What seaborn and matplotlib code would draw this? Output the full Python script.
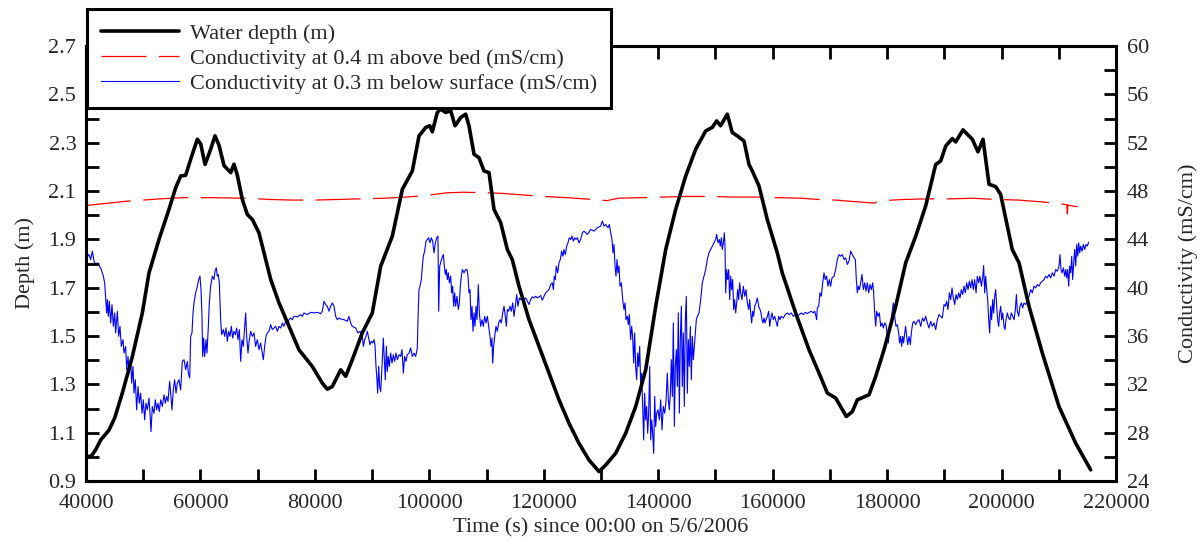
import numpy as np
import pandas as pd
import matplotlib
matplotlib.use("Agg")
import matplotlib.pyplot as plt
from matplotlib.ticker import MultipleLocator, FixedLocator, FormatStrFormatter
from matplotlib.lines import Line2D
import seaborn as sns

# ---------------- data ----------------
depth_t = [40300, 41000, 41700, 42570, 44000, 45000, 46350, 48100, 49840, 51010, 52760, 54500, 55680,
           56550, 57420, 58290, 59450, 60040, 60800, 61790, 62540, 63240, 64120, 65290, 65860, 66450,
           67320, 68190, 69070, 70230, 71110, 72280, 73730, 75480, 77220, 79550, 81300, 82170, 83040,
           84510, 85380, 86540, 88290, 90030, 91500, 93530, 95280, 97030, 98200, 99370, 100080, 100520,
           101390, 101990, 102860, 103740, 104490, 105480, 106360, 106930, 107810, 108680, 109550, 110430,
           111300, 112470, 113630, 114500, 115670, 117420, 119170, 120910, 122660, 124410, 126150, 127900,
           129650, 130820, 132570, 134320, 136060, 137810, 139560, 141310, 143050, 144800, 146550, 148300,
           149440, 150210, 150900, 152070, 152940, 153820, 154990, 155860, 156440, 157610, 159060, 160810,
           161680, 164020, 166350, 168100, 169550, 171020, 172870, 173920, 174800, 176840, 178010, 179460,
           181500, 183250, 185000, 186740, 188490, 189360, 190240, 191390, 191980, 193260, 194890, 195880,
           196760, 197810, 198980, 199840, 201870, 203050, 204800, 207120, 210040, 212960, 215580]
depth_v = [1.000, 1.005, 1.030, 1.070, 1.110, 1.160, 1.264, 1.415, 1.595, 1.761, 1.900, 2.024, 2.114,
           2.162, 2.165, 2.231, 2.314, 2.295, 2.210, 2.273, 2.328, 2.290, 2.205, 2.176, 2.211, 2.165,
           2.065, 2.003, 1.982, 1.927, 1.844, 1.734, 1.637, 1.540, 1.443, 1.374, 1.305, 1.280, 1.291,
           1.360, 1.333, 1.402, 1.513, 1.595, 1.789, 1.913, 2.107, 2.183, 2.328, 2.363, 2.370, 2.345,
           2.425, 2.439, 2.425, 2.432, 2.370, 2.404, 2.418, 2.370, 2.252, 2.238, 2.183, 2.176,
           2.024, 1.969, 1.858, 1.816, 1.706, 1.568, 1.457, 1.347, 1.236, 1.139, 1.056, 0.987,
           0.939, 0.966, 1.015, 1.098, 1.208, 1.360, 1.623, 1.858, 2.024, 2.162, 2.273, 2.349,
           2.363, 2.390, 2.370, 2.418, 2.342, 2.328, 2.307, 2.210, 2.183, 2.121, 1.982, 1.844,
           1.761, 1.595, 1.443, 1.347, 1.264, 1.243, 1.167, 1.187, 1.236, 1.257, 1.333, 1.443,
           1.623, 1.803, 1.913, 2.038, 2.210, 2.224, 2.286, 2.317, 2.303, 2.353, 2.314, 2.262,
           2.314, 2.128, 2.118, 2.086, 1.858, 1.803, 1.623, 1.430, 1.208, 1.056, 0.946]

bed_t = [40000, 43000, 47000, 50000, 53000, 57000, 62000, 68000, 72000, 76000, 80000, 84000, 88000,
         92000, 96000, 99000, 103000, 106000, 110000, 113000, 117000, 120000, 124000, 127000, 130000,
         131000, 133000, 137000, 141000, 145000, 149000, 153000, 157000, 161000, 165000, 168000, 171000,
         173000, 175000, 177700, 179000, 183000, 187000, 191000, 195000, 199000, 203000, 207000, 210900,
         211400, 211500, 211600, 212500, 213300]
bed_c = [46.80, 46.95, 47.15, 47.25, 47.35, 47.45, 47.45, 47.40, 47.30, 47.25, 47.25, 47.30, 47.35,
         47.40, 47.50, 47.60, 47.85, 47.90, 47.85, 47.80, 47.65, 47.55, 47.45, 47.35, 47.25,
         47.20, 47.40, 47.45, 47.50, 47.55, 47.55, 47.50, 47.50, 47.45, 47.40, 47.30, 47.25,
         47.17, 47.10, 47.00, 47.20, 47.30, 47.35, 47.35, 47.40, 47.30, 47.25, 47.10, 46.90,
         46.85, 46.10, 46.85, 46.75, 46.70]

surf_t = [40000, 40120, 40520, 40820, 41110, 41400, 41690, 41980, 42270, 42560, 43030, 43260, 43440,
          43610, 43730, 43900, 44080, 44310, 44540, 44780, 45010, 45180, 45480, 45710, 45940, 46170,
          46470, 46640, 46930, 47110, 47340, 47570, 47800, 47980, 48210, 48390, 48620, 48850, 49090,
          49320, 49550, 49790, 50020, 50250, 50480, 50720, 51010, 51180, 51360, 51590, 51880, 52120,
          52350, 52580, 52810, 53050, 53340, 53630, 53860, 54100, 54330, 54620, 54800, 55030, 55260,
          55490, 55730, 55960, 56250, 56540, 56830, 57130, 57420, 57710, 57880, 58120, 58290, 58520,
          58700, 58870, 59160, 59460, 59690, 59920, 60100, 60270, 60390, 60560, 60740, 60970, 61140,
          61380, 61550, 61780, 62080, 62370, 62540, 62770, 62950, 63120, 63300, 63530, 63710, 64000,
          64230, 64470, 64700, 64930, 65170, 65400, 65630, 65860, 66100, 66330, 66560, 66800, 67030,
          67260, 67490, 67730, 67900, 68080, 68310, 68540, 68770, 69070, 69360, 69650, 69940, 70230,
          70520, 70810, 70990, 71220, 71450, 71690, 71980, 72270, 72560, 72850, 73140, 73440, 73730,
          74020, 74310, 74600, 74890, 75180, 75470, 75770, 76060, 76350, 76930, 77510, 77800, 78100,
          78680, 79260, 79840, 80430, 81010, 81300, 81590, 81880, 82170, 82460, 82750, 83050, 83340,
          83630, 83920, 84210, 84510, 85090, 85670, 85960, 86250, 86540, 87130, 87530, 87880, 88290,
          88470, 88700, 88930, 89170, 89400, 89630, 89860, 90100, 90330, 90500, 90680, 90850, 90970,
          91150, 91320, 91500, 91730, 91960, 92140, 92310, 92490, 92660, 92830, 93010, 93240, 93480,
          93710, 93940, 94170, 94410, 94700, 94990, 95220, 95460, 95690, 95920, 96150, 96450, 96740,
          97030, 97320, 97610, 97900, 98020, 98190, 98370, 98600, 98780, 98950, 99180, 99420, 99650,
          99880, 100120, 100350, 100580, 100820, 101050, 101280, 101510, 101630, 101810, 101980, 102210,
          102450, 102620, 102800, 102970, 103150, 103320, 103500, 103730, 103900, 104080, 104250, 104430,
          104600, 104830, 105070, 105240, 105420, 105590, 105770, 106060, 106350, 106580, 106760, 106930,
          107110, 107280, 107460, 107630, 107810, 107980, 108160, 108330, 108560, 108740, 108970, 109200,
          109440, 109670, 109900, 110140, 110370, 110600, 110780, 110950, 111070, 111240, 111420, 111650,
          111880, 112120, 112350, 112580, 112820, 113050, 113280, 113460, 113630, 113860, 114100, 114330,
          114560, 114800, 115030, 115260, 115490, 115730, 115960, 116250, 116540, 116840, 117130, 117420,
          117710, 118000, 118290, 118580, 118870, 119160, 119460, 119750, 120040, 120330, 120620, 120910,
          121200, 121490, 121670, 121840, 122020, 122190, 122430, 122660, 122890, 123120, 123360, 123530,
          123770, 124000, 124230, 124460, 124700, 124930, 125160, 125400, 125630, 125860, 126150, 126440,
          126740, 127030, 127610, 128200, 128780, 129360, 129940, 130230, 130530, 130820, 131220, 131460,
          131690, 131920, 132100, 132270, 132450, 132620, 132800, 132970, 133150, 133320, 133550, 133790,
          134020, 134200, 134370, 134600, 134780, 134950, 135180, 135360, 135530, 135710, 135880, 136060,
          136230, 136410, 136580, 136760, 136930, 137110, 137280, 137460, 137630, 137810, 137980, 138160,
          138330, 138510, 138680, 138860, 139030, 139210, 139380, 139560, 139730, 139960, 140200, 140430,
          140660, 140890, 141130, 141360, 141590, 141770, 141940, 142120, 142290, 142470, 142640, 142820,
          142990, 143170, 143340, 143510, 143690, 143860, 144040, 144210, 144390, 144560, 144740, 144910,
          145090, 145260, 145440, 145610, 145790, 145960, 146140, 146310, 146490, 146660, 146840, 147130,
          147420, 147710, 148000, 148290, 148580, 148870, 149160, 149460, 149750, 150040, 150210, 150450,
          150680, 150850, 151030, 151200, 151380, 151550, 151670, 151790, 151960, 152140, 152310, 152490,
          152660, 152840, 153010, 153190, 153360, 153540, 153710, 153880, 154060, 154230, 154410, 154640,
          154880, 155110, 155340, 155570, 155810, 155980, 156160, 156330, 156510, 156680, 156860, 157090,
          157320, 157560, 157790, 157960, 158140, 158310, 158490, 158660, 158840, 159070, 159300, 159480,
          159650, 159880, 160110, 160350, 160580, 160810, 161050, 161280, 161510, 161860, 162210, 162560,
          162910, 163260, 163610, 163960, 164310, 164660, 165010, 165360, 165710, 166060, 166410, 166760,
          167110, 167340, 167570, 167690, 167800, 168040, 168270, 168500, 168740, 168970, 169200, 169430,
          169670, 169900, 170130, 170370, 170720, 171010, 171300, 171590, 171890, 172180, 172470, 172760,
          173050, 173340, 173630, 173920, 174220, 174450, 174620, 174800, 174970, 175150, 175380, 175610,
          175850, 176080, 176310, 176540, 176780, 177010, 177240, 177480, 177650, 177830, 178000, 178180,
          178410, 178640, 178880, 179110, 179340, 179570, 179810, 180040, 180210, 180390, 180620, 180850,
          181090, 181320, 181550, 181790, 182020, 182190, 182370, 182540, 182720, 182890, 183070, 183240,
          183420, 183590, 183830, 184060, 184230, 184470, 184700, 184990, 185280, 185570, 185870, 186160,
          186450, 186740, 187030, 187320, 187610, 187900, 188200, 188490, 188780, 189070, 189360, 189650,
          189940, 190180, 190410, 190640, 190880, 191110, 191340, 191570, 191810, 192040, 192270, 192510,
          192740, 192970, 193200, 193440, 193670, 193900, 194140, 194370, 194600, 194840, 195070, 195300,
          195540, 195770, 196000, 196230, 196470, 196700, 196870, 197050, 197220, 197400, 197570, 197750,
          197920, 198100, 198270, 198450, 198620, 198800, 198970, 199150, 199320, 199500, 199670, 199850,
          200020, 200200, 200430, 200600, 200780, 201010, 201240, 201480, 201710, 201940, 202180, 202410,
          202590, 202760, 202990, 203220, 203460, 203690, 203920, 204210, 204510, 204800, 205090, 205380,
          205670, 205960, 206250, 206540, 206830, 207130, 207420, 207710, 208000, 208290, 208580, 208870,
          209170, 209460, 209750, 210040, 210210, 210390, 210560, 210800, 211030, 211200, 211380, 211560,
          211730, 211910, 212080, 212260, 212430, 212610, 212780, 212960, 213130, 213310, 213480, 213660,
          213830, 214060, 214290, 214530, 214760, 214990, 215220]
surf_c = [43.02, 42.47, 42.75, 42.33, 43.02, 42.19, 41.92, 42.06, 41.83, 41.64, 40.95, 40.40, 39.15,
          37.91, 39.01, 37.63, 38.88, 37.08, 38.60, 36.80, 37.91, 36.25, 38.05, 35.97, 36.80, 35.14,
          35.70, 34.59, 35.14, 33.21, 34.31, 32.93, 34.18, 32.10, 33.48, 31.27, 32.38, 29.89, 31.82,
          30.44, 31.27, 29.61, 30.72, 29.06, 30.44, 29.89, 30.86, 29.61, 28.09, 30.17, 29.61, 30.72,
          29.89, 30.44, 29.75, 30.72, 30.17, 31.13, 30.44, 31.00, 30.58, 32.24, 31.27, 29.89, 31.55,
          32.38, 31.27, 32.10, 32.38, 31.55, 33.90, 34.04, 33.21, 33.90, 32.93, 32.52, 35.97, 36.25,
          37.91, 38.74, 39.57, 40.12, 40.67, 40.95, 39.84, 37.63, 34.31, 35.83, 34.31, 35.70, 34.59,
          36.80, 38.74, 40.12, 40.95, 40.67, 41.36, 41.64, 40.95, 41.09, 40.40, 37.35, 36.11, 36.53,
          35.97, 36.66, 35.56, 36.39, 35.97, 36.80, 35.83, 36.39, 36.11, 36.66, 35.70, 36.53, 33.90,
          35.70, 35.14, 36.80, 37.91, 35.97, 34.59, 35.70, 36.39, 35.97, 36.25, 35.14, 35.70, 34.87,
          35.42, 34.59, 34.04, 35.14, 35.97, 36.25, 36.39, 36.94, 36.53, 36.66, 36.80, 36.39, 36.80,
          36.66, 37.08, 36.80, 37.22, 36.94, 37.35, 37.49, 37.35, 37.63, 37.58, 37.77, 37.63, 37.91,
          37.77, 37.96, 37.91, 37.96, 37.85, 38.05, 38.88, 38.60, 38.46, 38.05, 38.46, 38.74, 38.46,
          37.63, 37.35, 37.49, 37.41, 37.35, 37.22, 37.63, 37.08, 36.80, 36.66, 36.25, 36.39, 35.97,
          35.14, 35.70, 35.97, 36.39, 35.83, 35.28, 35.56, 35.42, 35.70, 35.28, 33.48, 32.38, 31.27,
          33.48, 31.82, 31.41, 33.48, 35.83, 34.04, 32.38, 35.14, 33.07, 34.31, 33.48, 34.59, 33.76,
          34.45, 33.90, 34.59, 34.04, 34.45, 34.31, 34.87, 32.93, 34.31, 33.90, 34.45, 34.59, 35.01,
          34.31, 34.59, 34.31, 35.01, 37.35, 39.84, 40.12, 40.67, 41.78, 42.60, 43.02, 43.85, 43.99,
          44.13, 43.71, 44.13, 43.85, 42.88, 43.71, 44.13, 44.27, 38.05, 41.78, 42.06, 42.47,
          42.74, 41.78, 41.09, 41.50, 40.67, 41.23, 40.40, 40.95, 39.57, 40.12, 38.46, 39.57,
          38.46, 39.29, 38.19, 38.74, 40.12, 40.95, 41.50, 41.23, 41.50, 41.50, 40.95, 39.57,
          39.84, 37.35, 38.46, 36.39, 37.91, 36.80, 38.46, 37.35, 40.26, 37.91, 36.80, 37.35,
          36.80, 37.63, 37.08, 37.63, 36.80, 35.97, 35.14, 35.83, 33.76, 35.14, 35.97, 36.80,
          36.39, 37.08, 37.35, 37.08, 37.91, 38.46, 37.63, 36.80, 38.19, 38.05, 38.46, 38.05,
          38.74, 37.63, 38.46, 39.43, 38.46, 39.15, 39.01, 39.29, 39.01, 39.15, 38.88, 38.60,
          39.01, 39.24, 39.15, 39.29, 39.15, 39.24, 39.35, 38.96, 39.29, 39.57, 39.71, 39.84,
          40.26, 40.40, 39.84, 40.95, 40.67, 41.78, 41.23, 42.06, 42.33, 43.02, 42.60, 43.16,
          42.74, 43.44, 43.71, 44.13, 43.99, 44.27, 43.85, 44.13, 43.99, 44.13, 43.71, 43.99,
          44.54, 44.68, 44.40, 44.82, 44.68, 44.96, 45.10, 45.51, 45.10, 45.23, 44.96, 45.23,
          44.54, 43.99, 42.88, 43.58, 41.78, 40.95, 42.33, 41.23, 41.78, 40.12, 40.40, 39.01,
          38.19, 38.74, 37.35, 37.63, 36.94, 37.77, 35.70, 36.80, 35.97, 33.76, 36.25, 33.48,
          32.38, 34.59, 33.48, 35.14, 32.10, 32.93, 30.17, 27.40, 31.27, 29.06, 30.17, 27.95,
          29.61, 33.48, 27.40, 29.06, 27.95, 26.29, 31.00, 28.51, 29.61, 29.89, 29.06, 30.72,
          28.23, 30.17, 29.61, 30.58, 32.93, 30.72, 29.89, 31.27, 34.04, 31.00, 37.08, 28.51,
          33.48, 34.87, 31.82, 37.91, 29.61, 35.70, 38.46, 31.82, 36.25, 30.17, 37.35, 39.29,
          31.27, 35.70, 33.48, 36.80, 32.38, 35.97, 34.04, 35.14, 36.25, 37.35, 37.63, 37.91,
          39.01, 40.40, 40.95, 41.50, 42.33, 42.88, 43.16, 43.44, 43.71, 43.99, 44.40, 43.71,
          43.99, 43.44, 44.13, 43.16, 43.71, 44.54, 43.44, 39.57, 41.50, 40.67, 41.50, 39.01,
          40.95, 39.84, 40.67, 38.19, 39.01, 37.91, 38.74, 39.84, 39.01, 40.40, 39.57, 39.01,
          40.12, 39.29, 39.84, 38.74, 38.19, 39.01, 37.91, 37.08, 38.05, 37.63, 38.46, 38.74,
          39.15, 38.46, 38.19, 37.91, 37.35, 37.08, 37.49, 37.08, 37.35, 37.63, 38.05, 36.80,
          37.35, 37.91, 37.35, 37.63, 37.22, 36.80, 37.63, 37.35, 37.63, 37.49, 37.77, 37.91,
          37.77, 37.91, 37.63, 37.77, 37.69, 37.77, 37.91, 37.77, 37.96, 37.85, 37.96, 38.05,
          37.91, 38.05, 37.63, 37.35, 38.32, 38.46, 39.57, 39.29, 40.40, 41.23, 40.67, 40.95,
          40.12, 40.67, 40.12, 40.81, 40.95, 41.50, 42.33, 42.74, 42.60, 42.74, 42.33, 42.47,
          41.92, 42.19, 43.02, 42.74, 42.47, 42.33, 40.67, 39.57, 40.12, 39.84, 40.40, 41.09,
          39.84, 40.40, 39.71, 40.40, 39.57, 40.26, 39.84, 40.40, 39.57, 37.91, 36.80, 38.05,
          37.63, 37.91, 36.80, 37.08, 36.66, 37.08, 36.94, 35.97, 35.42, 36.25, 37.08, 37.91,
          38.74, 37.63, 36.80, 36.94, 36.25, 35.42, 35.97, 35.14, 35.97, 35.42, 36.25, 36.80,
          35.97, 35.28, 35.97, 35.28, 36.25, 37.08, 37.22, 36.94, 37.22, 37.35, 36.80, 37.49,
          37.22, 37.63, 37.08, 36.66, 37.22, 36.80, 37.08, 36.53, 37.35, 37.77, 37.63, 37.49,
          38.60, 38.46, 38.88, 38.19, 39.57, 39.01, 39.98, 39.15, 38.60, 39.43, 39.01, 39.57,
          39.15, 39.84, 39.43, 40.12, 39.57, 40.40, 39.84, 40.54, 39.98, 40.67, 39.84, 40.67,
          39.57, 40.95, 40.40, 40.95, 40.12, 40.81, 41.83, 39.57, 40.95, 39.84, 39.01, 37.35,
          36.25, 38.46, 37.35, 39.01, 37.91, 39.29, 39.84, 38.46, 37.35, 36.80, 37.91, 38.46,
          37.35, 37.91, 36.80, 36.53, 37.35, 37.91, 37.49, 37.35, 37.91, 37.63, 37.35, 38.19,
          39.43, 38.05, 37.63, 38.46, 38.74, 38.32, 38.74, 38.60, 38.88, 39.29, 39.84, 39.57,
          40.12, 39.98, 40.26, 40.12, 40.40, 40.54, 40.67, 40.95, 40.81, 41.09, 40.81, 41.23,
          40.95, 41.50, 41.36, 41.78, 42.74, 41.50, 41.23, 41.64, 40.95, 41.50, 40.81, 41.50,
          40.12, 41.78, 41.23, 42.60, 40.67, 42.06, 43.16, 41.78, 43.58, 42.60, 43.71, 42.88,
          43.44, 43.02, 43.58, 43.16, 43.58, 43.44, 43.77]

x_ticks = [40000, 60000, 80000, 100000, 120000, 140000, 160000, 180000, 200000, 220000]
depth_ticks = [0.9, 1.1, 1.3, 1.5, 1.7, 1.9, 2.1, 2.3, 2.5, 2.7]
cond_ticks = [24, 28, 32, 36, 40, 44, 48, 52, 56, 60]

labels = ["Water depth (m)",
          "Conductivity at 0.4 m above bed (mS/cm)",
          "Conductivity at 0.3 m below surface (mS/cm)"]

df_depth = pd.DataFrame({"t": depth_t, "v": depth_v})
df_bed = pd.DataFrame({"t": bed_t, "v": bed_c})
df_surf = pd.DataFrame({"t": surf_t, "v": surf_c})

# ---------------- style ----------------
sns.set_style("white")
plt.rcParams["font.family"] = ["Liberation Serif", "DejaVu Serif"]

W, H = 1204, 544
fig = plt.figure(figsize=(W / 100, H / 100), dpi=100)
ax = fig.add_axes([86 / W, 1 - 481 / H, (1116 - 86) / W, (481 - 46) / H])
ax2 = ax.twinx()

sns.lineplot(data=df_surf, x="t", y="v", ax=ax2, color="#0000ff", lw=0.8,
             sort=False, estimator=None, legend=False)
sns.lineplot(data=df_bed, x="t", y="v", ax=ax2, color="#ff0000", lw=0.9,
             sort=False, estimator=None, legend=False)
ax2.lines[-1].set_dashes([36, 10])
sns.lineplot(data=df_depth, x="t", y="v", ax=ax, color="black", lw=2.6,
             sort=False, estimator=None, legend=False)

ax.set_zorder(ax2.get_zorder() + 1)
ax.patch.set_visible(False)

ax.set_xlim(40000, 220000)
ax.set_ylim(0.9, 2.7)
ax2.set_ylim(24, 60)

ax.xaxis.set_major_locator(FixedLocator(x_ticks))
ax.xaxis.set_minor_locator(MultipleLocator(10000))
ax.xaxis.set_major_formatter(FormatStrFormatter("%d"))
ax.yaxis.set_major_locator(FixedLocator(depth_ticks))
ax.yaxis.set_minor_locator(FixedLocator([1.0, 1.2, 1.4, 1.6, 1.8, 2.0, 2.2, 2.4, 2.6]))
ax.yaxis.set_major_formatter(FormatStrFormatter("%.1f"))
ax2.yaxis.set_major_locator(FixedLocator(cond_ticks))
ax2.yaxis.set_minor_locator(MultipleLocator(2))

for a in (ax, ax2):
    a.tick_params(which="both", direction="in", length=9, width=2, labelsize=16, color="black")
    for s in a.spines.values():
        s.set_linewidth(2.2)
        s.set_color("black")
ax.tick_params(which="both", top=True, right=False, left=True, bottom=True)
ax.tick_params(axis="y", pad=7)
ax.tick_params(axis="x", pad=9)
ax2.tick_params(axis="y", which="both", right=True, left=False, pad=8)

ax.set_xlabel("Time (s) since 00:00 on 5/6/2006", fontsize=16, labelpad=4)
ax.set_ylabel("Depth (m)", fontsize=16, labelpad=10)
ax2.set_ylabel("Conductivity (mS/cm)", fontsize=16, labelpad=21)

handles = [Line2D([], [], color="black", lw=2.6),
           Line2D([], [], color="#ff0000", lw=0.9, dashes=[36, 10]),
           Line2D([], [], color="#0000ff", lw=0.8)]
leg = fig.legend(handles, labels, loc="upper left", bbox_to_anchor=(87 / W, 1 - 9 / H),
                 fontsize=16, frameon=True, fancybox=False, framealpha=1, edgecolor="black",
                 handlelength=3.5, handletextpad=0.5, labelspacing=0.2, borderpad=0.64,
                 borderaxespad=0)
leg.get_frame().set_linewidth(2.2)
leg.set_zorder(10)

fig.savefig("out.png", dpi=100)
